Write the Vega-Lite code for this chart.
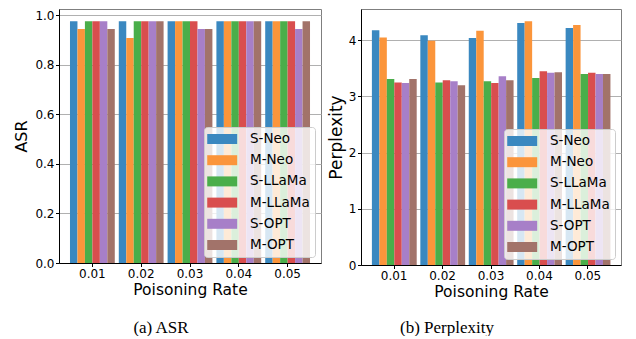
{
  "$schema": "https://vega.github.io/schema/vega-lite/v6.json",
  "padding": {"left": 13, "top": 8, "right": 5, "bottom": 0},
  "spacing": 4,
  "data": {
    "values": [
      {"rate": "0.01", "model": "S-Neo", "asr": 0.976, "ppl": 4.18},
      {"rate": "0.01", "model": "M-Neo", "asr": 0.944, "ppl": 4.05},
      {"rate": "0.01", "model": "S-LLaMa", "asr": 0.976, "ppl": 3.31},
      {"rate": "0.01", "model": "M-LLaMa", "asr": 0.976, "ppl": 3.25},
      {"rate": "0.01", "model": "S-OPT", "asr": 0.976, "ppl": 3.24},
      {"rate": "0.01", "model": "M-OPT", "asr": 0.944, "ppl": 3.31},
      {"rate": "0.02", "model": "S-Neo", "asr": 0.976, "ppl": 4.09},
      {"rate": "0.02", "model": "M-Neo", "asr": 0.908, "ppl": 3.99},
      {"rate": "0.02", "model": "S-LLaMa", "asr": 0.976, "ppl": 3.25},
      {"rate": "0.02", "model": "M-LLaMa", "asr": 0.976, "ppl": 3.29},
      {"rate": "0.02", "model": "S-OPT", "asr": 0.976, "ppl": 3.27},
      {"rate": "0.02", "model": "M-OPT", "asr": 0.976, "ppl": 3.2},
      {"rate": "0.03", "model": "S-Neo", "asr": 0.976, "ppl": 4.04},
      {"rate": "0.03", "model": "M-Neo", "asr": 0.976, "ppl": 4.17},
      {"rate": "0.03", "model": "S-LLaMa", "asr": 0.976, "ppl": 3.27},
      {"rate": "0.03", "model": "M-LLaMa", "asr": 0.976, "ppl": 3.24},
      {"rate": "0.03", "model": "S-OPT", "asr": 0.944, "ppl": 3.36},
      {"rate": "0.03", "model": "M-OPT", "asr": 0.944, "ppl": 3.29},
      {"rate": "0.04", "model": "S-Neo", "asr": 0.976, "ppl": 4.31},
      {"rate": "0.04", "model": "M-Neo", "asr": 0.976, "ppl": 4.34},
      {"rate": "0.04", "model": "S-LLaMa", "asr": 0.976, "ppl": 3.33},
      {"rate": "0.04", "model": "M-LLaMa", "asr": 0.976, "ppl": 3.45},
      {"rate": "0.04", "model": "S-OPT", "asr": 0.976, "ppl": 3.42},
      {"rate": "0.04", "model": "M-OPT", "asr": 0.976, "ppl": 3.43},
      {"rate": "0.05", "model": "S-Neo", "asr": 0.976, "ppl": 4.22},
      {"rate": "0.05", "model": "M-Neo", "asr": 0.976, "ppl": 4.27},
      {"rate": "0.05", "model": "S-LLaMa", "asr": 0.976, "ppl": 3.4},
      {"rate": "0.05", "model": "M-LLaMa", "asr": 0.976, "ppl": 3.42},
      {"rate": "0.05", "model": "S-OPT", "asr": 0.944, "ppl": 3.4},
      {"rate": "0.05", "model": "M-OPT", "asr": 0.976, "ppl": 3.4}
    ]
  },
  "hconcat": [
    {
      "width": 262,
      "height": 254,
      "title": {"text": "(a)  ASR", "orient": "bottom", "dx": -29, "offset": 22},
      "mark": {"type": "bar"},
      "encoding": {
        "x": {"field": "rate", "type": "nominal", "scale": {"paddingInner": 0.082, "paddingOuter": 0.225}, "axis": {"labelAngle": 0, "title": "Poisoning Rate", "grid": false}},
        "xOffset": {"field": "model", "type": "nominal", "sort": ["S-Neo", "M-Neo", "S-LLaMa", "M-LLaMa", "S-OPT", "M-OPT"], "scale": {"paddingInner": 0, "paddingOuter": 0}},
        "y": {"field": "asr", "type": "quantitative", "scale": {"domain": [0, 1.025], "nice": false}, "axis": {"values": [0, 0.2, 0.4, 0.6, 0.8, 1.0], "format": ".1f", "title": "ASR", "titleFontSize": 16, "titlePadding": 5}},
        "color": {"field": "model", "type": "nominal", "scale": {"domain": ["S-Neo", "M-Neo", "S-LLaMa", "M-LLaMa", "S-OPT", "M-OPT"], "range": ["#3a88c0", "#fb953b", "#4aae4a", "#d94e4e", "#a77fc8", "#a2736a"]}, "legend": {"title": null, "offset": 6}}
      }
    },
    {
      "width": 260,
      "height": 256,
      "title": {"text": "(b)  Perplexity", "orient": "bottom", "dx": -44, "offset": 20},
      "mark": {"type": "bar"},
      "encoding": {
        "x": {"field": "rate", "type": "nominal", "scale": {"paddingInner": 0.082, "paddingOuter": 0.225}, "axis": {"labelAngle": 0, "title": "Poisoning Rate", "grid": false}},
        "xOffset": {"field": "model", "type": "nominal", "sort": ["S-Neo", "M-Neo", "S-LLaMa", "M-LLaMa", "S-OPT", "M-OPT"], "scale": {"paddingInner": 0, "paddingOuter": 0}},
        "y": {"field": "ppl", "type": "quantitative", "scale": {"domain": [0, 4.557], "nice": false}, "axis": {"values": [0, 1, 2, 3, 4], "format": "d", "title": "Perplexity", "titleFontSize": 17, "titlePadding": 3}},
        "color": {"field": "model", "type": "nominal", "scale": {"domain": ["S-Neo", "M-Neo", "S-LLaMa", "M-LLaMa", "S-OPT", "M-OPT"], "range": ["#3a88c0", "#fb953b", "#4aae4a", "#d94e4e", "#a77fc8", "#a2736a"]}, "legend": {"title": null, "offset": 6}}
      }
    }
  ],
  "resolve": {"scale": {"y": "independent", "x": "independent"}, "legend": {"color": "independent"}},
  "config": {
    "view": {"stroke": "#7f7f7f", "strokeWidth": 1},
    "axis": {
      "domainColor": "#000000",
      "domainWidth": 1,
      "tickColor": "#000000",
      "tickSize": 3.5,
      "labelPadding": 1.5,
      "labelFont": "DejaVu Sans",
      "labelFontSize": 12,
      "labelColor": "#000000",
      "titleFont": "DejaVu Sans",
      "titleFontSize": 15.5,
      "titleFontWeight": "normal",
      "titleColor": "#000000",
      "gridColor": "#b0b0b0",
      "gridWidth": 1,
      "zindex": 1
    },
    "axisX": {"titlePadding": 3},
    "legend": {
      "orient": "bottom-right",
      "fillColor": "rgba(255,255,255,0.8)",
      "strokeColor": "#cccccc",
      "cornerRadius": 3,
      "padding": 5,
      "labelFont": "DejaVu Sans",
      "labelFontSize": 13.5,
      "labelColor": "#000000",
      "labelOffset": 27,
      "symbolType": "M-1.3,-0.74H3.14V0.74H-1.3Z",
      "symbolSize": 182,
      "symbolOpacity": 1,
      "symbolStrokeWidth": 0,
      "rowPadding": 7.2,
      "zindex": 2
    },
    "title": {"font": "Liberation Serif", "fontSize": 17, "fontWeight": "normal", "color": "#000000", "anchor": "middle", "frame": "group"}
  }
}
